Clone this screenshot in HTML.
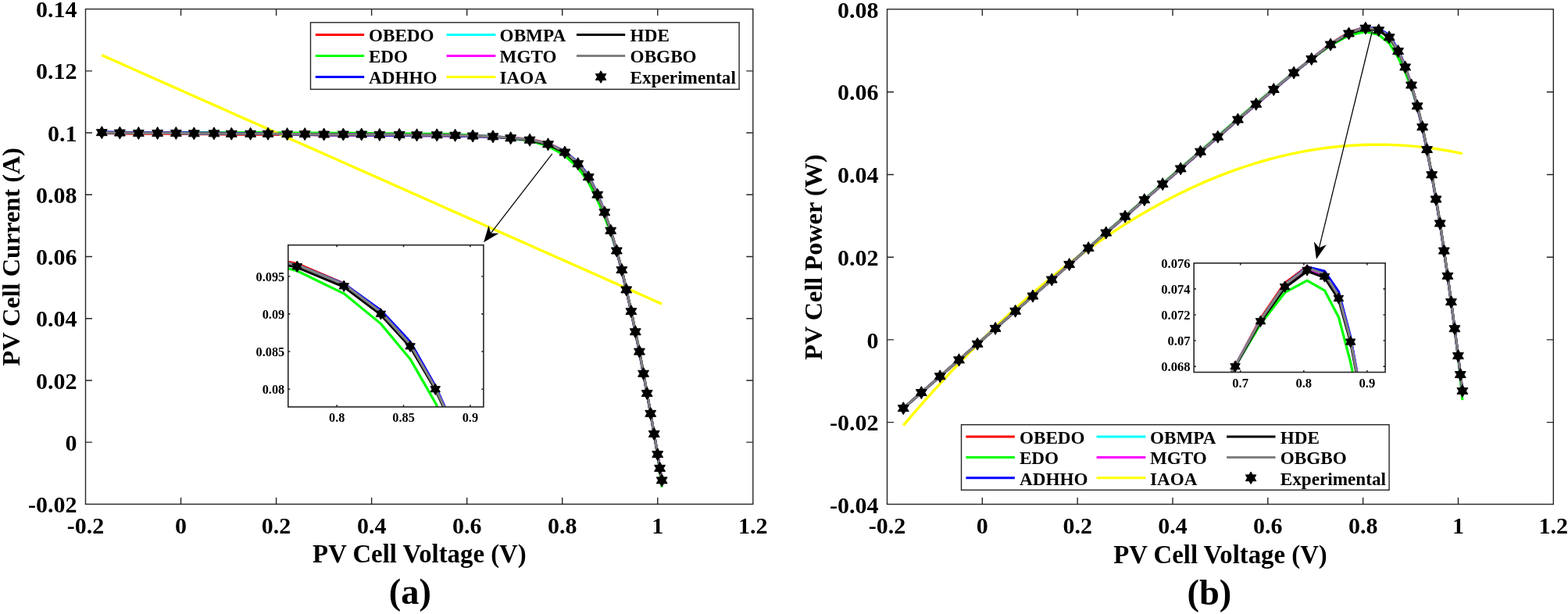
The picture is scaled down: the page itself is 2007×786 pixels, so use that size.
<!DOCTYPE html>
<html><head><meta charset="utf-8"><title>PV cell I-V and P-V curves</title>
<style>
html,body{margin:0;padding:0;background:#fff;}
body{width:2007px;height:786px;overflow:hidden;}
svg{display:block;}
text{font-family:"Liberation Serif", "Times New Roman", serif;font-weight:bold;fill:#000;}
</style></head>
<body>
<svg width="2007" height="786" viewBox="0 0 2007 786">
<rect width="2007" height="786" fill="#fff"/>
<clipPath id="clipA"><rect x="109.5" y="11.6" width="854.3" height="633.8"/></clipPath>
<polyline points="130.31,170.45 153.37,170.84 177.36,171.24 201.64,171.24 225.32,171.24 248.32,171.63 273.95,171.63 296.29,172.03 320.63,172.03 343.09,172.03 367.62,172.43 390.2,172.43 414.67,172.82 439.38,172.82 462.75,172.82 485.88,173.22 511.2,173.22 533.54,173.62 559.23,173.62 582.6,174.01 605.18,174.66 630.99,174.95 653.69,176.49 678.1,178.01 701.53,183.2 722.95,193.64 739.79,208.41 753.28,225.59 764.75,248.46 773.84,271.28 781.71,294.83 789.34,320.61 795.87,345.19 801.73,370.56 807.89,398.31 813.26,424.47 818.45,449.84 823.57,477.98 828.21,503.35 832.73,529.11 837.24,555.27 841.7,581.43 844.56,599.26 847.19,614.72" stroke="#ff0000" stroke-width="3.2" fill="none" stroke-linejoin="round" stroke-linecap="butt" clip-path="url(#clipA)"/>
<polyline points="130.31,169.5 153.37,169.72 177.36,169.94 201.64,169.76 225.32,169.59 248.32,169.81 273.95,169.62 296.29,169.85 320.63,169.67 343.09,169.65 367.62,170.05 390.2,170.05 414.67,170.45 439.38,170.45 462.75,170.45 485.88,170.84 511.2,170.84 533.54,171.24 559.23,171.24 582.6,171.92 605.18,173.13 630.99,174.4 653.69,176.83 678.1,180.29 701.53,187.01 722.95,198.97 739.79,214.81 753.28,233.43 764.75,256.4 773.84,277.43 781.71,298.06 789.34,321.16 795.87,344.76 801.73,369.7 807.89,397.43 813.26,423.57 818.45,448.92 823.57,477.06 828.21,503.02 832.73,529.36 837.24,556.09 841.7,582.81 844.56,604.57 847.19,623.61" stroke="#00ff00" stroke-width="3.2" fill="none" stroke-linejoin="round" stroke-linecap="butt" clip-path="url(#clipA)"/>
<polyline points="130.31,168.86 153.37,169.26 177.36,169.65 201.64,169.65 225.32,169.65 248.32,170.05 273.95,170.05 296.29,170.49 320.63,170.81 343.09,171.1 367.62,171.82 390.2,172.11 414.67,172.82 439.38,172.82 462.75,172.82 485.88,173.22 511.2,173.22 533.54,173.62 559.23,173.62 582.6,174.01 605.18,174.71 630.99,175.16 653.69,176.85 678.1,178.8 701.53,183.91 722.95,193.82 739.79,207.68 753.28,224.32 764.75,247.54 773.84,270.62 781.71,295.42 789.34,322.13 795.87,346.59 801.73,371.86 807.89,399.5 813.26,425.57 818.45,450.84 823.57,478.89 828.21,504.18 832.73,529.86 837.24,555.94 841.7,582.02 844.56,599.83 847.19,615.26" stroke="#0000ff" stroke-width="3.2" fill="none" stroke-linejoin="round" stroke-linecap="butt" clip-path="url(#clipA)"/>
<polyline points="130.31,169.65 153.37,170.05 177.36,170.45 201.64,170.45 225.32,170.45 248.32,170.84 273.95,170.84 296.29,171.24 320.63,171.24 343.09,171.24 367.62,171.63 390.2,171.63 414.67,172.03 439.38,172.03 462.75,172.03 485.88,172.43 511.2,172.43 533.54,172.82 559.23,172.82 582.6,173.22 605.18,173.96 630.99,174.59 653.69,176.42 678.1,178.58 701.53,183.91 722.95,194.21 739.79,208.87 753.28,225.94 764.75,248.67 773.84,271.37 781.71,294.83 789.34,320.61 795.87,345.19 801.73,370.56 807.89,398.31 813.26,424.47 818.45,449.84 823.57,477.98 828.21,503.35 832.73,529.11 837.24,555.27 841.7,581.43 844.56,599.26 847.19,614.72" stroke="#00ffff" stroke-width="3.2" fill="none" stroke-linejoin="round" stroke-linecap="butt" clip-path="url(#clipA)"/>
<polyline points="130.31,169.65 153.37,170.05 177.36,170.45 201.64,170.45 225.32,170.45 248.32,170.84 273.95,170.84 296.29,171.24 320.63,171.24 343.09,171.24 367.62,171.63 390.2,171.63 414.67,172.03 439.38,172.03 462.75,172.03 485.88,172.43 511.2,172.43 533.54,172.82 559.23,172.82 582.6,173.22 605.18,173.96 630.99,174.59 653.69,176.42 678.1,178.67 701.53,184.11 722.95,194.61 739.79,209.02 753.28,225.94 764.75,248.67 773.84,271.37 781.71,294.83 789.34,320.61 795.87,345.19 801.73,370.56 807.89,398.31 813.26,424.47 818.45,449.84 823.57,477.98 828.21,503.35 832.73,529.11 837.24,555.27 841.7,581.43 844.56,599.26 847.19,614.72" stroke="#ff00ff" stroke-width="3.2" fill="none" stroke-linejoin="round" stroke-linecap="butt" clip-path="url(#clipA)"/>
<polyline points="130.31,70.62 142.46,76.02 154.61,81.42 166.76,86.82 178.91,92.21 191.06,97.61 203.21,103.01 215.36,108.41 227.51,113.81 239.66,119.21 251.81,124.6 263.96,130 276.11,135.4 288.26,140.8 300.42,146.2 312.57,151.59 324.72,156.99 336.87,162.39 349.02,167.79 361.17,173.19 373.32,178.58 385.47,183.98 397.62,189.38 409.77,194.78 421.92,200.18 434.07,205.57 446.22,210.97 458.37,216.37 470.52,221.77 482.67,227.17 494.82,232.56 506.97,237.96 519.12,243.36 531.27,248.76 543.43,254.16 555.58,259.55 567.73,264.95 579.88,270.35 592.03,275.75 604.18,281.15 616.33,286.54 628.48,291.94 640.63,297.34 652.78,302.74 664.93,308.14 677.08,313.53 689.23,318.93 701.38,324.33 713.53,329.73 725.68,335.13 737.83,340.52 749.98,345.92 762.13,351.32 774.29,356.72 786.44,362.12 798.59,367.51 810.74,372.91 822.89,378.31 835.04,383.71 847.19,389.11" stroke="#ffff00" stroke-width="3.4" fill="none" stroke-linejoin="round" stroke-linecap="butt" clip-path="url(#clipA)"/>
<polyline points="130.31,169.65 153.37,170.05 177.36,170.45 201.64,170.45 225.32,170.45 248.32,170.84 273.95,170.84 296.29,171.24 320.63,171.24 343.09,171.24 367.62,171.63 390.2,171.63 414.67,172.03 439.38,172.03 462.75,172.03 485.88,172.43 511.2,172.43 533.54,172.82 559.23,172.82 582.6,173.22 605.18,174.01 630.99,174.8 653.69,176.78 678.1,179.34 701.53,185.1 722.95,195.4 739.79,210.06 753.28,227.05 764.75,249.48 773.84,271.94 781.71,295.23 789.34,320.97 795.87,345.53 801.73,370.89 807.89,398.61 813.26,424.76 818.45,450.11 823.57,478.24 828.21,503.59 832.73,529.34 837.24,555.48 841.7,581.62 844.56,599.45 847.19,614.9" stroke="#000000" stroke-width="3.2" fill="none" stroke-linejoin="round" stroke-linecap="butt" clip-path="url(#clipA)"/>
<polyline points="130.31,169.65 153.37,170.05 177.36,170.45 201.64,170.45 225.32,170.45 248.32,170.84 273.95,170.84 296.29,171.24 320.63,171.24 343.09,171.24 367.62,171.63 390.2,171.63 414.67,172.03 439.38,172.03 462.75,172.03 485.88,172.43 511.2,172.43 533.54,172.82 559.23,172.82 582.6,173.22 605.18,173.96 630.99,174.59 653.69,176.42 678.1,178.58 701.53,183.91 722.95,194.13 739.79,208.71 753.28,225.76 764.75,248.57 773.84,271.32 781.71,294.83 789.34,320.61 795.87,345.19 801.73,370.56 807.89,398.31 813.26,424.47 818.45,449.84 823.57,477.98 828.21,503.35 832.73,529.11 837.24,555.27 841.7,581.43 844.56,599.26 847.19,614.72" stroke="#808080" stroke-width="3.2" fill="none" stroke-linejoin="round" stroke-linecap="butt" clip-path="url(#clipA)"/>
<polygon points="130.31,161.65 128,165.65 123.38,165.65 125.69,169.65 123.38,173.65 128,173.65 130.31,177.65 132.62,173.65 137.24,173.65 134.93,169.65 137.24,165.65 132.62,165.65" fill="#000" stroke="#000" stroke-width="1.0" stroke-miterlimit="10"/>
<polygon points="153.37,162.05 151.07,166.05 146.45,166.05 148.76,170.05 146.45,174.05 151.07,174.05 153.37,178.05 155.68,174.05 160.3,174.05 157.99,170.05 160.3,166.05 155.68,166.05" fill="#000" stroke="#000" stroke-width="1.0" stroke-miterlimit="10"/>
<polygon points="177.36,162.45 175.05,166.45 170.43,166.45 172.74,170.45 170.43,174.45 175.05,174.45 177.36,178.45 179.67,174.45 184.28,174.45 181.97,170.45 184.28,166.45 179.67,166.45" fill="#000" stroke="#000" stroke-width="1.0" stroke-miterlimit="10"/>
<polygon points="201.64,162.45 199.33,166.45 194.71,166.45 197.02,170.45 194.71,174.45 199.33,174.45 201.64,178.45 203.95,174.45 208.57,174.45 206.26,170.45 208.57,166.45 203.95,166.45" fill="#000" stroke="#000" stroke-width="1.0" stroke-miterlimit="10"/>
<polygon points="225.32,162.45 223.01,166.45 218.39,166.45 220.7,170.45 218.39,174.45 223.01,174.45 225.32,178.45 227.63,174.45 232.25,174.45 229.94,170.45 232.25,166.45 227.63,166.45" fill="#000" stroke="#000" stroke-width="1.0" stroke-miterlimit="10"/>
<polygon points="248.32,162.84 246.01,166.84 241.4,166.84 243.7,170.84 241.4,174.84 246.01,174.84 248.32,178.84 250.63,174.84 255.25,174.84 252.94,170.84 255.25,166.84 250.63,166.84" fill="#000" stroke="#000" stroke-width="1.0" stroke-miterlimit="10"/>
<polygon points="273.95,162.84 271.64,166.84 267.02,166.84 269.33,170.84 267.02,174.84 271.64,174.84 273.95,178.84 276.26,174.84 280.88,174.84 278.57,170.84 280.88,166.84 276.26,166.84" fill="#000" stroke="#000" stroke-width="1.0" stroke-miterlimit="10"/>
<polygon points="296.29,163.24 293.98,167.24 289.36,167.24 291.67,171.24 289.36,175.24 293.98,175.24 296.29,179.24 298.6,175.24 303.21,175.24 300.91,171.24 303.21,167.24 298.6,167.24" fill="#000" stroke="#000" stroke-width="1.0" stroke-miterlimit="10"/>
<polygon points="320.63,163.24 318.32,167.24 313.71,167.24 316.02,171.24 313.71,175.24 318.32,175.24 320.63,179.24 322.94,175.24 327.56,175.24 325.25,171.24 327.56,167.24 322.94,167.24" fill="#000" stroke="#000" stroke-width="1.0" stroke-miterlimit="10"/>
<polygon points="343.09,163.24 340.78,167.24 336.16,167.24 338.47,171.24 336.16,175.24 340.78,175.24 343.09,179.24 345.4,175.24 350.02,175.24 347.71,171.24 350.02,167.24 345.4,167.24" fill="#000" stroke="#000" stroke-width="1.0" stroke-miterlimit="10"/>
<polygon points="367.62,163.63 365.31,167.63 360.69,167.63 363,171.63 360.69,175.63 365.31,175.63 367.62,179.63 369.93,175.63 374.55,175.63 372.24,171.63 374.55,167.63 369.93,167.63" fill="#000" stroke="#000" stroke-width="1.0" stroke-miterlimit="10"/>
<polygon points="390.2,163.63 387.89,167.63 383.27,167.63 385.58,171.63 383.27,175.63 387.89,175.63 390.2,179.63 392.51,175.63 397.13,175.63 394.82,171.63 397.13,167.63 392.51,167.63" fill="#000" stroke="#000" stroke-width="1.0" stroke-miterlimit="10"/>
<polygon points="414.67,164.03 412.36,168.03 407.74,168.03 410.05,172.03 407.74,176.03 412.36,176.03 414.67,180.03 416.98,176.03 421.6,176.03 419.29,172.03 421.6,168.03 416.98,168.03" fill="#000" stroke="#000" stroke-width="1.0" stroke-miterlimit="10"/>
<polygon points="439.38,164.03 437.07,168.03 432.45,168.03 434.76,172.03 432.45,176.03 437.07,176.03 439.38,180.03 441.69,176.03 446.31,176.03 444,172.03 446.31,168.03 441.69,168.03" fill="#000" stroke="#000" stroke-width="1.0" stroke-miterlimit="10"/>
<polygon points="462.75,164.03 460.44,168.03 455.82,168.03 458.13,172.03 455.82,176.03 460.44,176.03 462.75,180.03 465.06,176.03 469.68,176.03 467.37,172.03 469.68,168.03 465.06,168.03" fill="#000" stroke="#000" stroke-width="1.0" stroke-miterlimit="10"/>
<polygon points="485.88,164.43 483.57,168.43 478.95,168.43 481.26,172.43 478.95,176.43 483.57,176.43 485.88,180.43 488.19,176.43 492.81,176.43 490.5,172.43 492.81,168.43 488.19,168.43" fill="#000" stroke="#000" stroke-width="1.0" stroke-miterlimit="10"/>
<polygon points="511.2,164.43 508.89,168.43 504.28,168.43 506.59,172.43 504.28,176.43 508.89,176.43 511.2,180.43 513.51,176.43 518.13,176.43 515.82,172.43 518.13,168.43 513.51,168.43" fill="#000" stroke="#000" stroke-width="1.0" stroke-miterlimit="10"/>
<polygon points="533.54,164.82 531.23,168.82 526.61,168.82 528.92,172.82 526.61,176.82 531.23,176.82 533.54,180.82 535.85,176.82 540.47,176.82 538.16,172.82 540.47,168.82 535.85,168.82" fill="#000" stroke="#000" stroke-width="1.0" stroke-miterlimit="10"/>
<polygon points="559.23,164.82 556.92,168.82 552.3,168.82 554.61,172.82 552.3,176.82 556.92,176.82 559.23,180.82 561.54,176.82 566.16,176.82 563.85,172.82 566.16,168.82 561.54,168.82" fill="#000" stroke="#000" stroke-width="1.0" stroke-miterlimit="10"/>
<polygon points="582.6,165.22 580.29,169.22 575.67,169.22 577.98,173.22 575.67,177.22 580.29,177.22 582.6,181.22 584.91,177.22 589.53,177.22 587.22,173.22 589.53,169.22 584.91,169.22" fill="#000" stroke="#000" stroke-width="1.0" stroke-miterlimit="10"/>
<polygon points="605.18,166.01 602.87,170.01 598.25,170.01 600.56,174.01 598.25,178.01 602.87,178.01 605.18,182.01 607.49,178.01 612.11,178.01 609.8,174.01 612.11,170.01 607.49,170.01" fill="#000" stroke="#000" stroke-width="1.0" stroke-miterlimit="10"/>
<polygon points="630.99,166.8 628.68,170.8 624.06,170.8 626.37,174.8 624.06,178.8 628.68,178.8 630.99,182.8 633.3,178.8 637.92,178.8 635.61,174.8 637.92,170.8 633.3,170.8" fill="#000" stroke="#000" stroke-width="1.0" stroke-miterlimit="10"/>
<polygon points="653.69,168.78 651.38,172.78 646.76,172.78 649.07,176.78 646.76,180.78 651.38,180.78 653.69,184.78 656,180.78 660.62,180.78 658.31,176.78 660.62,172.78 656,172.78" fill="#000" stroke="#000" stroke-width="1.0" stroke-miterlimit="10"/>
<polygon points="678.1,171.16 675.79,175.16 671.17,175.16 673.48,179.16 671.17,183.16 675.79,183.16 678.1,187.16 680.41,183.16 685.03,183.16 682.72,179.16 685.03,175.16 680.41,175.16" fill="#000" stroke="#000" stroke-width="1.0" stroke-miterlimit="10"/>
<polygon points="701.53,176.71 699.22,180.71 694.6,180.71 696.91,184.71 694.6,188.71 699.22,188.71 701.53,192.71 703.84,188.71 708.46,188.71 706.15,184.71 708.46,180.71 703.84,180.71" fill="#000" stroke="#000" stroke-width="1.0" stroke-miterlimit="10"/>
<polygon points="722.95,187.01 720.64,191.01 716.02,191.01 718.33,195.01 716.02,199.01 720.64,199.01 722.95,203.01 725.26,199.01 729.88,199.01 727.57,195.01 729.88,191.01 725.26,191.01" fill="#000" stroke="#000" stroke-width="1.0" stroke-miterlimit="10"/>
<polygon points="739.79,201.66 737.48,205.66 732.86,205.66 735.17,209.66 732.86,213.66 737.48,213.66 739.79,217.66 742.1,213.66 746.72,213.66 744.41,209.66 746.72,205.66 742.1,205.66" fill="#000" stroke="#000" stroke-width="1.0" stroke-miterlimit="10"/>
<polygon points="753.28,218.7 750.97,222.7 746.35,222.7 748.66,226.7 746.35,230.7 750.97,230.7 753.28,234.7 755.59,230.7 760.2,230.7 757.89,226.7 760.2,222.7 755.59,222.7" fill="#000" stroke="#000" stroke-width="1.0" stroke-miterlimit="10"/>
<polygon points="764.75,241.27 762.44,245.27 757.82,245.27 760.13,249.27 757.82,253.27 762.44,253.27 764.75,257.27 767.06,253.27 771.68,253.27 769.37,249.27 771.68,245.27 767.06,245.27" fill="#000" stroke="#000" stroke-width="1.0" stroke-miterlimit="10"/>
<polygon points="773.84,263.85 771.53,267.85 766.91,267.85 769.22,271.85 766.91,275.85 771.53,275.85 773.84,279.85 776.15,275.85 780.77,275.85 778.46,271.85 780.77,267.85 776.15,267.85" fill="#000" stroke="#000" stroke-width="1.0" stroke-miterlimit="10"/>
<polygon points="781.71,287.23 779.4,291.23 774.78,291.23 777.09,295.23 774.78,299.23 779.4,299.23 781.71,303.23 784.02,299.23 788.64,299.23 786.33,295.23 788.64,291.23 784.02,291.23" fill="#000" stroke="#000" stroke-width="1.0" stroke-miterlimit="10"/>
<polygon points="789.34,312.97 787.03,316.97 782.41,316.97 784.72,320.97 782.41,324.97 787.03,324.97 789.34,328.97 791.65,324.97 796.27,324.97 793.96,320.97 796.27,316.97 791.65,316.97" fill="#000" stroke="#000" stroke-width="1.0" stroke-miterlimit="10"/>
<polygon points="795.87,337.53 793.56,341.53 788.94,341.53 791.25,345.53 788.94,349.53 793.56,349.53 795.87,353.53 798.18,349.53 802.8,349.53 800.49,345.53 802.8,341.53 798.18,341.53" fill="#000" stroke="#000" stroke-width="1.0" stroke-miterlimit="10"/>
<polygon points="801.73,362.89 799.42,366.89 794.8,366.89 797.11,370.89 794.8,374.89 799.42,374.89 801.73,378.89 804.04,374.89 808.66,374.89 806.35,370.89 808.66,366.89 804.04,366.89" fill="#000" stroke="#000" stroke-width="1.0" stroke-miterlimit="10"/>
<polygon points="807.89,390.61 805.58,394.61 800.96,394.61 803.27,398.61 800.96,402.61 805.58,402.61 807.89,406.61 810.2,402.61 814.82,402.61 812.51,398.61 814.82,394.61 810.2,394.61" fill="#000" stroke="#000" stroke-width="1.0" stroke-miterlimit="10"/>
<polygon points="813.26,416.76 810.95,420.76 806.33,420.76 808.64,424.76 806.33,428.76 810.95,428.76 813.26,432.76 815.57,428.76 820.19,428.76 817.88,424.76 820.19,420.76 815.57,420.76" fill="#000" stroke="#000" stroke-width="1.0" stroke-miterlimit="10"/>
<polygon points="818.45,442.11 816.14,446.11 811.52,446.11 813.83,450.11 811.52,454.11 816.14,454.11 818.45,458.11 820.76,454.11 825.38,454.11 823.07,450.11 825.38,446.11 820.76,446.11" fill="#000" stroke="#000" stroke-width="1.0" stroke-miterlimit="10"/>
<polygon points="823.57,470.24 821.26,474.24 816.64,474.24 818.95,478.24 816.64,482.24 821.26,482.24 823.57,486.24 825.88,482.24 830.5,482.24 828.19,478.24 830.5,474.24 825.88,474.24" fill="#000" stroke="#000" stroke-width="1.0" stroke-miterlimit="10"/>
<polygon points="828.21,495.59 825.9,499.59 821.28,499.59 823.59,503.59 821.28,507.59 825.9,507.59 828.21,511.59 830.52,507.59 835.14,507.59 832.83,503.59 835.14,499.59 830.52,499.59" fill="#000" stroke="#000" stroke-width="1.0" stroke-miterlimit="10"/>
<polygon points="832.73,521.34 830.42,525.34 825.8,525.34 828.11,529.34 825.8,533.34 830.42,533.34 832.73,537.34 835.04,533.34 839.65,533.34 837.34,529.34 839.65,525.34 835.04,525.34" fill="#000" stroke="#000" stroke-width="1.0" stroke-miterlimit="10"/>
<polygon points="837.24,547.48 834.93,551.48 830.31,551.48 832.62,555.48 830.31,559.48 834.93,559.48 837.24,563.48 839.55,559.48 844.17,559.48 841.86,555.48 844.17,551.48 839.55,551.48" fill="#000" stroke="#000" stroke-width="1.0" stroke-miterlimit="10"/>
<polygon points="841.7,573.62 839.39,577.62 834.77,577.62 837.08,581.62 834.77,585.62 839.39,585.62 841.7,589.62 844.01,585.62 848.62,585.62 846.31,581.62 848.62,577.62 844.01,577.62" fill="#000" stroke="#000" stroke-width="1.0" stroke-miterlimit="10"/>
<polygon points="844.56,591.45 842.25,595.45 837.64,595.45 839.95,599.45 837.64,603.45 842.25,603.45 844.56,607.45 846.87,603.45 851.49,603.45 849.18,599.45 851.49,595.45 846.87,595.45" fill="#000" stroke="#000" stroke-width="1.0" stroke-miterlimit="10"/>
<polygon points="847.19,606.9 844.88,610.9 840.26,610.9 842.57,614.9 840.26,618.9 844.88,618.9 847.19,622.9 849.5,618.9 854.12,618.9 851.81,614.9 854.12,610.9 849.5,610.9" fill="#000" stroke="#000" stroke-width="1.0" stroke-miterlimit="10"/>
<path d="M231.54 645.4V636.9M231.54 11.6V20.1M353.59 645.4V636.9M353.59 11.6V20.1M475.63 645.4V636.9M475.63 11.6V20.1M597.67 645.4V636.9M597.67 11.6V20.1M719.71 645.4V636.9M719.71 11.6V20.1M841.76 645.4V636.9M841.76 11.6V20.1M109.5 566.17H118M963.8 566.17H955.3M109.5 486.95H118M963.8 486.95H955.3M109.5 407.73H118M963.8 407.73H955.3M109.5 328.5H118M963.8 328.5H955.3M109.5 249.27H118M963.8 249.27H955.3M109.5 170.05H118M963.8 170.05H955.3M109.5 90.83H118M963.8 90.83H955.3" stroke="#262626" stroke-width="1.4" fill="none"/>
<rect x="109.5" y="11.6" width="854.3" height="633.8" stroke="#262626" stroke-width="1.4" fill="none"/>
<text x="109.5" y="683.3" font-size="30" text-anchor="middle">-0.2</text>
<text x="231.54" y="683.3" font-size="30" text-anchor="middle">0</text>
<text x="353.59" y="683.3" font-size="30" text-anchor="middle">0.2</text>
<text x="475.63" y="683.3" font-size="30" text-anchor="middle">0.4</text>
<text x="597.67" y="683.3" font-size="30" text-anchor="middle">0.6</text>
<text x="719.71" y="683.3" font-size="30" text-anchor="middle">0.8</text>
<text x="841.76" y="683.3" font-size="30" text-anchor="middle">1</text>
<text x="963.8" y="683.3" font-size="30" text-anchor="middle">1.2</text>
<text x="98.5" y="656" font-size="30" text-anchor="end">-0.02</text>
<text x="98.5" y="576.77" font-size="30" text-anchor="end">0</text>
<text x="98.5" y="497.55" font-size="30" text-anchor="end">0.02</text>
<text x="98.5" y="418.33" font-size="30" text-anchor="end">0.04</text>
<text x="98.5" y="339.1" font-size="30" text-anchor="end">0.06</text>
<text x="98.5" y="259.88" font-size="30" text-anchor="end">0.08</text>
<text x="98.5" y="180.65" font-size="30" text-anchor="end">0.1</text>
<text x="98.5" y="101.43" font-size="30" text-anchor="end">0.12</text>
<text x="98.5" y="22.2" font-size="30" text-anchor="end">0.14</text>
<text x="24.9" y="328.8" font-size="32.3" text-anchor="middle" transform="rotate(-90 24.9 328.8)" dy="0">PV Cell Current (A)</text>
<text x="536.9" y="720.1" font-size="32.8" text-anchor="middle">PV Cell Voltage (V)</text>
<text x="524.9" y="773.4" font-size="46.5" text-anchor="middle">(a)</text>
<rect x="397.5" y="28.8" width="548.6" height="85.5" fill="#fff" stroke="#262626" stroke-width="1.4"/>
<line x1="403.75" y1="44.4" x2="466.2" y2="44.4" stroke="#ff0000" stroke-width="3"/>
<text x="471.9" y="53.2" font-size="23.2" text-anchor="start">OBEDO</text>
<line x1="403.75" y1="71.6" x2="466.2" y2="71.6" stroke="#00ff00" stroke-width="3"/>
<text x="471.9" y="80.4" font-size="23.2" text-anchor="start">EDO</text>
<line x1="403.75" y1="98.5" x2="466.2" y2="98.5" stroke="#0000ff" stroke-width="3"/>
<text x="471.9" y="107.3" font-size="23.2" text-anchor="start">ADHHO</text>
<line x1="571.6" y1="44.4" x2="634.4" y2="44.4" stroke="#00ffff" stroke-width="3"/>
<text x="639.6" y="53.2" font-size="23.2" text-anchor="start">OBMPA</text>
<line x1="571.6" y1="71.6" x2="634.4" y2="71.6" stroke="#ff00ff" stroke-width="3"/>
<text x="639.6" y="80.4" font-size="23.2" text-anchor="start">MGTO</text>
<line x1="571.6" y1="98.5" x2="634.4" y2="98.5" stroke="#ffff00" stroke-width="3"/>
<text x="639.6" y="107.3" font-size="23.2" text-anchor="start">IAOA</text>
<line x1="738" y1="44.4" x2="800.2" y2="44.4" stroke="#000000" stroke-width="3"/>
<text x="806.6" y="53.2" font-size="23.2" text-anchor="start">HDE</text>
<line x1="738" y1="71.6" x2="800.2" y2="71.6" stroke="#808080" stroke-width="3"/>
<text x="806.6" y="80.4" font-size="23.2" text-anchor="start">OBGBO</text>
<polygon points="769.1,90.7 766.85,94.6 762.35,94.6 764.6,98.5 762.35,102.4 766.85,102.4 769.1,106.3 771.35,102.4 775.85,102.4 773.6,98.5 775.85,94.6 771.35,94.6" fill="#000" stroke="#000" stroke-width="1.0" stroke-miterlimit="10"/>
<text x="806.6" y="107.3" font-size="23.2" text-anchor="start">Experimental</text>
<rect x="368.8" y="313.7" width="250.1" height="207.2" fill="#fff"/>
<clipPath id="clipA2"><rect x="368.8" y="313.7" width="250.1" height="207.2"/></clipPath>
<polyline points="-1217.59,306.5 -1153.07,307.47 -1085.98,308.43 -1018.04,308.43 -951.81,308.43 -887.46,309.39 -815.76,309.39 -753.29,310.36 -685.18,310.36 -622.36,310.36 -553.74,311.32 -490.58,311.32 -422.13,312.28 -353,312.28 -287.62,312.28 -222.92,313.25 -152.08,313.25 -89.61,314.21 -17.74,314.21 47.64,315.17 110.8,316.74 183,317.45 246.5,321.19 314.78,324.89 380.33,337.52 440.25,362.91 487.36,398.82 525.08,440.59 557.18,496.23 582.61,551.71 604.63,608.99 625.97,671.66 644.23,731.44 660.62,793.14 677.86,860.62 692.88,924.24 707.39,985.93 721.73,1054.36 734.7,1116.05 747.34,1178.7 759.97,1242.31 772.43,1305.93 780.45,1349.3 787.79,1386.89" stroke="#ff0000" stroke-width="3.2" fill="none" stroke-linejoin="round" stroke-linecap="butt" clip-path="url(#clipA2)"/>
<polyline points="-1217.59,304.2 -1153.07,304.75 -1085.98,305.28 -1018.04,304.84 -951.81,304.41 -887.46,304.96 -815.76,304.5 -753.29,305.06 -685.18,304.62 -622.36,304.58 -553.74,305.54 -490.58,305.54 -422.13,306.5 -353,306.5 -287.62,306.5 -222.92,307.47 -152.08,307.47 -89.61,308.43 -17.74,308.43 47.64,310.09 110.8,313.03 183,316.13 246.5,322.03 314.78,330.44 380.33,346.78 440.25,375.86 487.36,414.38 525.08,459.67 557.18,515.53 582.61,566.67 604.63,616.83 625.97,673.02 644.23,730.39 660.62,791.04 677.86,858.47 692.88,922.05 707.39,983.7 721.73,1052.14 734.7,1115.26 747.34,1179.3 759.97,1244.31 772.43,1309.3 780.45,1362.21 787.79,1408.52" stroke="#00ff00" stroke-width="3.2" fill="none" stroke-linejoin="round" stroke-linecap="butt" clip-path="url(#clipA2)"/>
<polyline points="-1217.59,302.65 -1153.07,303.61 -1085.98,304.58 -1018.04,304.58 -951.81,304.58 -887.46,305.54 -815.76,305.54 -753.29,306.62 -685.18,307.39 -622.36,308.1 -553.74,309.84 -490.58,310.55 -422.13,312.28 -353,312.28 -287.62,312.28 -222.92,313.25 -152.08,313.25 -89.61,314.21 -17.74,314.21 47.64,315.17 110.8,316.86 183,317.97 246.5,322.07 314.78,326.82 380.33,339.25 440.25,363.34 487.36,397.06 525.08,437.51 557.18,493.97 582.61,550.11 604.63,610.41 625.97,675.36 644.23,734.85 660.62,796.3 677.86,863.52 692.88,926.9 707.39,988.37 721.73,1056.59 734.7,1118.08 747.34,1180.53 759.97,1243.95 772.43,1307.37 780.45,1350.68 787.79,1388.2" stroke="#0000ff" stroke-width="3.2" fill="none" stroke-linejoin="round" stroke-linecap="butt" clip-path="url(#clipA2)"/>
<polyline points="-1217.59,304.58 -1153.07,305.54 -1085.98,306.5 -1018.04,306.5 -951.81,306.5 -887.46,307.47 -815.76,307.47 -753.29,308.43 -685.18,308.43 -622.36,308.43 -553.74,309.39 -490.58,309.39 -422.13,310.36 -353,310.36 -287.62,310.36 -222.92,311.32 -152.08,311.32 -89.61,312.28 -17.74,312.28 47.64,313.25 110.8,315.05 183,316.57 246.5,321.03 314.78,326.29 380.33,339.26 440.25,364.3 487.36,399.94 525.08,441.46 557.18,496.73 582.61,551.93 604.63,608.99 625.97,671.66 644.23,731.44 660.62,793.14 677.86,860.62 692.88,924.24 707.39,985.93 721.73,1054.36 734.7,1116.05 747.34,1178.7 759.97,1242.31 772.43,1305.93 780.45,1349.3 787.79,1386.89" stroke="#00ffff" stroke-width="3.2" fill="none" stroke-linejoin="round" stroke-linecap="butt" clip-path="url(#clipA2)"/>
<polyline points="-1217.59,304.58 -1153.07,305.54 -1085.98,306.5 -1018.04,306.5 -951.81,306.5 -887.46,307.47 -815.76,307.47 -753.29,308.43 -685.18,308.43 -622.36,308.43 -553.74,309.39 -490.58,309.39 -422.13,310.36 -353,310.36 -287.62,310.36 -222.92,311.32 -152.08,311.32 -89.61,312.28 -17.74,312.28 47.64,313.25 110.8,315.05 183,316.57 246.5,321.03 314.78,326.51 380.33,339.74 440.25,365.26 487.36,400.31 525.08,441.46 557.18,496.73 582.61,551.93 604.63,608.99 625.97,671.66 644.23,731.44 660.62,793.14 677.86,860.62 692.88,924.24 707.39,985.93 721.73,1054.36 734.7,1116.05 747.34,1178.7 759.97,1242.31 772.43,1305.93 780.45,1349.3 787.79,1386.89" stroke="#ff00ff" stroke-width="3.2" fill="none" stroke-linejoin="round" stroke-linecap="butt" clip-path="url(#clipA2)"/>
<polyline points="-1217.59,304.58 -1153.07,305.54 -1085.98,306.5 -1018.04,306.5 -951.81,306.5 -887.46,307.47 -815.76,307.47 -753.29,308.43 -685.18,308.43 -622.36,308.43 -553.74,309.39 -490.58,309.39 -422.13,310.36 -353,310.36 -287.62,310.36 -222.92,311.32 -152.08,311.32 -89.61,312.28 -17.74,312.28 47.64,313.25 110.8,315.17 183,317.1 246.5,321.92 314.78,328.13 380.33,342.15 440.25,367.19 487.36,402.83 525.08,444.16 557.18,498.7 582.61,553.33 604.63,609.94 625.97,672.56 644.23,732.28 660.62,793.93 677.86,861.36 692.88,924.94 707.39,986.59 721.73,1054.99 734.7,1116.64 747.34,1179.25 759.97,1242.83 772.43,1306.41 780.45,1349.76 787.79,1387.33" stroke="#000000" stroke-width="3.2" fill="none" stroke-linejoin="round" stroke-linecap="butt" clip-path="url(#clipA2)"/>
<polyline points="-1217.59,304.58 -1153.07,305.54 -1085.98,306.5 -1018.04,306.5 -951.81,306.5 -887.46,307.47 -815.76,307.47 -753.29,308.43 -685.18,308.43 -622.36,308.43 -553.74,309.39 -490.58,309.39 -422.13,310.36 -353,310.36 -287.62,310.36 -222.92,311.32 -152.08,311.32 -89.61,312.28 -17.74,312.28 47.64,313.25 110.8,315.05 183,316.57 246.5,321.03 314.78,326.29 380.33,339.25 440.25,364.09 487.36,399.56 525.08,441.03 557.18,496.48 582.61,551.82 604.63,608.99 625.97,671.66 644.23,731.44 660.62,793.14 677.86,860.62 692.88,924.24 707.39,985.93 721.73,1054.36 734.7,1116.05 747.34,1178.7 759.97,1242.31 772.43,1305.93 780.45,1349.3 787.79,1386.89" stroke="#808080" stroke-width="3.2" fill="none" stroke-linejoin="round" stroke-linecap="butt" clip-path="url(#clipA2)"/>
<g clip-path="url(#clipA2)">
<polygon points="380.33,333.98 378.25,337.58 374.1,337.58 376.17,341.18 374.1,344.78 378.25,344.78 380.33,348.38 382.41,344.78 386.57,344.78 384.49,341.18 386.57,337.58 382.41,337.58" fill="#000" stroke="#000" stroke-width="1.0" stroke-miterlimit="10"/>
<polygon points="440.25,359.03 438.17,362.63 434.01,362.63 436.09,366.23 434.01,369.83 438.17,369.83 440.25,373.43 442.33,369.83 446.48,369.83 444.4,366.23 446.48,362.63 442.33,362.63" fill="#000" stroke="#000" stroke-width="1.0" stroke-miterlimit="10"/>
<polygon points="487.36,394.67 485.28,398.27 481.12,398.27 483.2,401.87 481.12,405.47 485.28,405.47 487.36,409.07 489.44,405.47 493.6,405.47 491.52,401.87 493.6,398.27 489.44,398.27" fill="#000" stroke="#000" stroke-width="1.0" stroke-miterlimit="10"/>
<polygon points="525.08,436.09 523.01,439.69 518.85,439.69 520.93,443.29 518.85,446.89 523.01,446.89 525.08,450.49 527.16,446.89 531.32,446.89 529.24,443.29 531.32,439.69 527.16,439.69" fill="#000" stroke="#000" stroke-width="1.0" stroke-miterlimit="10"/>
<polygon points="557.18,491 555.1,494.6 550.94,494.6 553.02,498.2 550.94,501.8 555.1,501.8 557.18,505.4 559.26,501.8 563.41,501.8 561.33,498.2 563.41,494.6 559.26,494.6" fill="#000" stroke="#000" stroke-width="1.0" stroke-miterlimit="10"/>
<polygon points="582.61,545.91 580.53,549.51 576.38,549.51 578.45,553.11 576.38,556.71 580.53,556.71 582.61,560.31 584.69,556.71 588.85,556.71 586.77,553.11 588.85,549.51 584.69,549.51" fill="#000" stroke="#000" stroke-width="1.0" stroke-miterlimit="10"/>
<polygon points="604.63,602.74 602.55,606.34 598.4,606.34 600.47,609.94 598.4,613.54 602.55,613.54 604.63,617.14 606.71,613.54 610.87,613.54 608.79,609.94 610.87,606.34 606.71,606.34" fill="#000" stroke="#000" stroke-width="1.0" stroke-miterlimit="10"/>
<polygon points="625.97,665.36 623.89,668.96 619.73,668.96 621.81,672.56 619.73,676.16 623.89,676.16 625.97,679.76 628.05,676.16 632.2,676.16 630.13,672.56 632.2,668.96 628.05,668.96" fill="#000" stroke="#000" stroke-width="1.0" stroke-miterlimit="10"/>
<polygon points="644.23,725.08 642.16,728.68 638,728.68 640.08,732.28 638,735.88 642.16,735.88 644.23,739.48 646.31,735.88 650.47,735.88 648.39,732.28 650.47,728.68 646.31,728.68" fill="#000" stroke="#000" stroke-width="1.0" stroke-miterlimit="10"/>
</g>
<path d="M431.2 520.9V518.3M431.2 313.7V316.3M516.55 520.9V518.3M516.55 313.7V316.3M601.9 520.9V518.3M601.9 313.7V316.3M368.8 498.2H371.4M618.9 498.2H616.3M368.8 450.03H371.4M618.9 450.03H616.3M368.8 401.87H371.4M618.9 401.87H616.3M368.8 353.71H371.4M618.9 353.71H616.3" stroke="#262626" stroke-width="1.6" fill="none"/>
<rect x="368.8" y="313.7" width="250.1" height="207.2" stroke="#262626" stroke-width="1.6" fill="none"/>
<text x="431.2" y="540.3" font-size="16.3" text-anchor="middle">0.8</text>
<text x="516.55" y="540.3" font-size="16.3" text-anchor="middle">0.85</text>
<text x="601.9" y="540.3" font-size="16.3" text-anchor="middle">0.9</text>
<text x="364.2" y="504" font-size="16.3" text-anchor="end">0.08</text>
<text x="364.2" y="455.83" font-size="16.3" text-anchor="end">0.085</text>
<text x="364.2" y="407.67" font-size="16.3" text-anchor="end">0.09</text>
<text x="364.2" y="359.51" font-size="16.3" text-anchor="end">0.095</text>
<line x1="706.8" y1="196.8" x2="627.05" y2="300.01" stroke="#000" stroke-width="1.25"/>
<polygon points="619.1,310.3 625.45,288.67 628.27,298.43 638.43,298.7" fill="#000"/>
<clipPath id="clipB"><rect x="1135.5" y="11.8" width="852.8" height="633.7"/></clipPath>
<polyline points="1156.27,522.49 1179.3,502.47 1203.24,481.69 1227.48,460.72 1251.12,440.27 1274.08,420.42 1299.66,398.32 1321.96,379.11 1346.26,358.12 1368.68,338.77 1393.17,317.75 1415.71,298.31 1440.13,277.41 1464.8,256.15 1488.13,236.05 1511.22,216.38 1536.5,194.63 1558.79,175.7 1584.44,153.65 1607.77,133.89 1630.31,115.06 1656.07,93.22 1678.73,75.22 1703.1,55.91 1726.49,41.36 1747.87,34.64 1764.68,37.34 1778.15,46.38 1789.6,64.51 1798.67,85.25 1806.53,108.5 1814.15,135.41 1820.66,162.23 1826.51,191.03 1832.66,223.36 1838.02,254.67 1843.2,285.61 1848.32,320.74 1852.95,352.94 1857.46,386.18 1861.96,420.45 1866.41,455.24 1869.27,479.24 1871.89,500.24" stroke="#ff0000" stroke-width="3.2" fill="none" stroke-linejoin="round" stroke-linecap="butt" clip-path="url(#clipB)"/>
<polyline points="1156.27,522.7 1179.3,502.66 1203.24,481.84 1227.48,460.82 1251.12,440.3 1274.08,420.36 1299.66,398.13 1321.96,378.8 1346.26,357.67 1368.68,338.19 1393.17,317.04 1415.71,297.49 1440.13,276.46 1464.8,255.07 1488.13,234.85 1511.22,215.06 1536.5,193.17 1558.79,174.13 1584.44,151.95 1607.77,132.29 1630.31,113.82 1656.07,92.75 1678.73,75.54 1703.1,58.14 1726.49,45.28 1747.87,40.37 1764.68,44.45 1778.15,55.33 1789.6,73.76 1798.67,92.54 1806.53,112.38 1814.15,136.09 1820.66,161.7 1826.51,189.96 1832.66,222.25 1838.02,253.53 1843.2,284.44 1848.32,319.55 1852.95,352.51 1857.46,386.5 1861.96,421.54 1866.41,457.09 1869.27,486.36 1871.89,512.21" stroke="#00ff00" stroke-width="3.2" fill="none" stroke-linejoin="round" stroke-linecap="butt" clip-path="url(#clipB)"/>
<polyline points="1156.27,522.84 1179.3,502.74 1203.24,481.88 1227.48,460.82 1251.12,440.3 1274.08,420.37 1299.66,398.17 1321.96,378.89 1346.26,357.89 1368.68,338.55 1393.17,317.57 1415.71,298.2 1440.13,277.41 1464.8,256.15 1488.13,236.05 1511.22,216.38 1536.5,194.63 1558.79,175.7 1584.44,153.65 1607.77,133.89 1630.31,115.1 1656.07,93.41 1678.73,75.56 1703.1,56.69 1726.49,42.09 1747.87,34.84 1764.68,36.53 1778.15,44.94 1789.6,63.43 1798.67,84.47 1806.53,109.21 1814.15,137.27 1820.66,163.97 1826.51,192.66 1832.66,224.87 1838.02,256.06 1843.2,286.9 1848.32,321.92 1852.95,354.02 1857.46,387.17 1861.96,421.35 1866.41,456.04 1869.27,480 1871.89,500.97" stroke="#0000ff" stroke-width="3.2" fill="none" stroke-linejoin="round" stroke-linecap="butt" clip-path="url(#clipB)"/>
<polyline points="1156.27,522.67 1179.3,502.6 1203.24,481.78 1227.48,460.77 1251.12,440.29 1274.08,420.4 1299.66,398.24 1321.96,378.99 1346.26,357.97 1368.68,338.58 1393.17,317.52 1415.71,298.04 1440.13,277.09 1464.8,255.79 1488.13,235.65 1511.22,215.94 1536.5,194.14 1558.79,175.18 1584.44,153.08 1607.77,133.29 1630.31,114.5 1656.07,92.91 1678.73,75.16 1703.1,56.48 1726.49,42.1 1747.87,35.26 1764.68,37.85 1778.15,46.79 1789.6,64.75 1798.67,85.35 1806.53,108.5 1814.15,135.41 1820.66,162.23 1826.51,191.03 1832.66,223.36 1838.02,254.67 1843.2,285.61 1848.32,320.74 1852.95,352.94 1857.46,386.18 1861.96,420.45 1866.41,455.24 1869.27,479.24 1871.89,500.24" stroke="#00ffff" stroke-width="3.2" fill="none" stroke-linejoin="round" stroke-linecap="butt" clip-path="url(#clipB)"/>
<polyline points="1156.27,522.67 1179.3,502.6 1203.24,481.78 1227.48,460.77 1251.12,440.29 1274.08,420.4 1299.66,398.24 1321.96,378.99 1346.26,357.97 1368.68,338.58 1393.17,317.52 1415.71,298.04 1440.13,277.09 1464.8,255.79 1488.13,235.65 1511.22,215.94 1536.5,194.14 1558.79,175.18 1584.44,153.08 1607.77,133.29 1630.31,114.5 1656.07,92.91 1678.73,75.16 1703.1,56.56 1726.49,42.3 1747.87,35.69 1764.68,38.02 1778.15,46.79 1789.6,64.75 1798.67,85.35 1806.53,108.5 1814.15,135.41 1820.66,162.23 1826.51,191.03 1832.66,223.36 1838.02,254.67 1843.2,285.61 1848.32,320.74 1852.95,352.94 1857.46,386.18 1861.96,420.45 1866.41,455.24 1869.27,479.24 1871.89,500.24" stroke="#ff00ff" stroke-width="3.2" fill="none" stroke-linejoin="round" stroke-linecap="butt" clip-path="url(#clipB)"/>
<polyline points="1156.27,544.59 1168.4,530.37 1180.53,516.44 1192.66,502.8 1204.79,489.44 1216.92,476.37 1229.05,463.59 1241.18,451.09 1253.31,438.89 1265.43,426.96 1277.56,415.33 1289.69,403.98 1301.82,392.92 1313.95,382.15 1326.08,371.66 1338.21,361.46 1350.34,351.54 1362.47,341.92 1374.6,332.58 1386.73,323.52 1398.86,314.75 1410.98,306.27 1423.11,298.08 1435.24,290.18 1447.37,282.56 1459.5,275.22 1471.63,268.18 1483.76,261.42 1495.89,254.95 1508.02,248.76 1520.15,242.86 1532.28,237.25 1544.41,231.92 1556.53,226.89 1568.66,222.13 1580.79,217.67 1592.92,213.49 1605.05,209.6 1617.18,206 1629.31,202.68 1641.44,199.65 1653.57,196.9 1665.7,194.45 1677.83,192.28 1689.96,190.39 1702.08,188.8 1714.21,187.49 1726.34,186.46 1738.47,185.73 1750.6,185.28 1762.73,185.12 1774.86,185.24 1786.99,185.65 1799.12,186.35 1811.25,187.33 1823.38,188.6 1835.51,190.16 1847.63,192.01 1859.76,194.14 1871.89,196.56" stroke="#ffff00" stroke-width="3.4" fill="none" stroke-linejoin="round" stroke-linecap="butt" clip-path="url(#clipB)"/>
<polyline points="1156.27,522.67 1179.3,502.6 1203.24,481.78 1227.48,460.77 1251.12,440.29 1274.08,420.4 1299.66,398.24 1321.96,378.99 1346.26,357.97 1368.68,338.58 1393.17,317.52 1415.71,298.04 1440.13,277.09 1464.8,255.79 1488.13,235.65 1511.22,215.94 1536.5,194.14 1558.79,175.18 1584.44,153.08 1607.77,133.29 1630.31,114.54 1656.07,93.1 1678.73,75.5 1703.1,57.21 1726.49,43.32 1747.87,36.54 1764.68,39.17 1778.15,48.06 1789.6,65.7 1798.67,86.04 1806.53,108.98 1814.15,135.86 1820.66,162.66 1826.51,191.44 1832.66,223.75 1838.02,255.04 1843.2,285.96 1848.32,321.07 1852.95,353.25 1857.46,386.48 1861.96,420.74 1866.41,455.51 1869.27,479.5 1871.89,500.48" stroke="#000000" stroke-width="3.2" fill="none" stroke-linejoin="round" stroke-linecap="butt" clip-path="url(#clipB)"/>
<polyline points="1156.27,522.67 1179.3,502.6 1203.24,481.78 1227.48,460.77 1251.12,440.29 1274.08,420.4 1299.66,398.24 1321.96,378.99 1346.26,357.97 1368.68,338.58 1393.17,317.52 1415.71,298.04 1440.13,277.09 1464.8,255.79 1488.13,235.65 1511.22,215.94 1536.5,194.14 1558.79,175.18 1584.44,153.08 1607.77,133.29 1630.31,114.5 1656.07,92.91 1678.73,75.16 1703.1,56.48 1726.49,42.1 1747.87,35.17 1764.68,37.68 1778.15,46.59 1789.6,64.63 1798.67,85.3 1806.53,108.5 1814.15,135.41 1820.66,162.23 1826.51,191.03 1832.66,223.36 1838.02,254.67 1843.2,285.61 1848.32,320.74 1852.95,352.94 1857.46,386.18 1861.96,420.45 1866.41,455.24 1869.27,479.24 1871.89,500.24" stroke="#808080" stroke-width="3.2" fill="none" stroke-linejoin="round" stroke-linecap="butt" clip-path="url(#clipB)"/>
<polygon points="1156.27,514.67 1153.96,518.67 1149.34,518.67 1151.65,522.67 1149.34,526.67 1153.96,526.67 1156.27,530.67 1158.58,526.67 1163.2,526.67 1160.89,522.67 1163.2,518.67 1158.58,518.67" fill="#000" stroke="#000" stroke-width="1.0" stroke-miterlimit="10"/>
<polygon points="1179.3,494.6 1176.99,498.6 1172.37,498.6 1174.68,502.6 1172.37,506.6 1176.99,506.6 1179.3,510.6 1181.61,506.6 1186.23,506.6 1183.92,502.6 1186.23,498.6 1181.61,498.6" fill="#000" stroke="#000" stroke-width="1.0" stroke-miterlimit="10"/>
<polygon points="1203.24,473.78 1200.93,477.78 1196.31,477.78 1198.62,481.78 1196.31,485.78 1200.93,485.78 1203.24,489.78 1205.55,485.78 1210.16,485.78 1207.86,481.78 1210.16,477.78 1205.55,477.78" fill="#000" stroke="#000" stroke-width="1.0" stroke-miterlimit="10"/>
<polygon points="1227.48,452.77 1225.17,456.77 1220.55,456.77 1222.86,460.77 1220.55,464.77 1225.17,464.77 1227.48,468.77 1229.79,464.77 1234.41,464.77 1232.1,460.77 1234.41,456.77 1229.79,456.77" fill="#000" stroke="#000" stroke-width="1.0" stroke-miterlimit="10"/>
<polygon points="1251.12,432.29 1248.81,436.29 1244.19,436.29 1246.5,440.29 1244.19,444.29 1248.81,444.29 1251.12,448.29 1253.42,444.29 1258.04,444.29 1255.73,440.29 1258.04,436.29 1253.42,436.29" fill="#000" stroke="#000" stroke-width="1.0" stroke-miterlimit="10"/>
<polygon points="1274.08,412.4 1271.77,416.4 1267.15,416.4 1269.46,420.4 1267.15,424.4 1271.77,424.4 1274.08,428.4 1276.39,424.4 1281.01,424.4 1278.7,420.4 1281.01,416.4 1276.39,416.4" fill="#000" stroke="#000" stroke-width="1.0" stroke-miterlimit="10"/>
<polygon points="1299.66,390.24 1297.35,394.24 1292.74,394.24 1295.05,398.24 1292.74,402.24 1297.35,402.24 1299.66,406.24 1301.97,402.24 1306.59,402.24 1304.28,398.24 1306.59,394.24 1301.97,394.24" fill="#000" stroke="#000" stroke-width="1.0" stroke-miterlimit="10"/>
<polygon points="1321.96,370.99 1319.65,374.99 1315.03,374.99 1317.34,378.99 1315.03,382.99 1319.65,382.99 1321.96,386.99 1324.27,382.99 1328.89,382.99 1326.58,378.99 1328.89,374.99 1324.27,374.99" fill="#000" stroke="#000" stroke-width="1.0" stroke-miterlimit="10"/>
<polygon points="1346.26,349.97 1343.95,353.97 1339.34,353.97 1341.64,357.97 1339.34,361.97 1343.95,361.97 1346.26,365.97 1348.57,361.97 1353.19,361.97 1350.88,357.97 1353.19,353.97 1348.57,353.97" fill="#000" stroke="#000" stroke-width="1.0" stroke-miterlimit="10"/>
<polygon points="1368.68,330.58 1366.37,334.58 1361.75,334.58 1364.06,338.58 1361.75,342.58 1366.37,342.58 1368.68,346.58 1370.99,342.58 1375.61,342.58 1373.3,338.58 1375.61,334.58 1370.99,334.58" fill="#000" stroke="#000" stroke-width="1.0" stroke-miterlimit="10"/>
<polygon points="1393.17,309.52 1390.86,313.52 1386.24,313.52 1388.55,317.52 1386.24,321.52 1390.86,321.52 1393.17,325.52 1395.48,321.52 1400.1,321.52 1397.79,317.52 1400.1,313.52 1395.48,313.52" fill="#000" stroke="#000" stroke-width="1.0" stroke-miterlimit="10"/>
<polygon points="1415.71,290.04 1413.4,294.04 1408.78,294.04 1411.09,298.04 1408.78,302.04 1413.4,302.04 1415.71,306.04 1418.02,302.04 1422.63,302.04 1420.32,298.04 1422.63,294.04 1418.02,294.04" fill="#000" stroke="#000" stroke-width="1.0" stroke-miterlimit="10"/>
<polygon points="1440.13,269.09 1437.82,273.09 1433.2,273.09 1435.51,277.09 1433.2,281.09 1437.82,281.09 1440.13,285.09 1442.44,281.09 1447.06,281.09 1444.75,277.09 1447.06,273.09 1442.44,273.09" fill="#000" stroke="#000" stroke-width="1.0" stroke-miterlimit="10"/>
<polygon points="1464.8,247.79 1462.49,251.79 1457.87,251.79 1460.18,255.79 1457.87,259.79 1462.49,259.79 1464.8,263.79 1467.11,259.79 1471.73,259.79 1469.42,255.79 1471.73,251.79 1467.11,251.79" fill="#000" stroke="#000" stroke-width="1.0" stroke-miterlimit="10"/>
<polygon points="1488.13,227.65 1485.82,231.65 1481.2,231.65 1483.51,235.65 1481.2,239.65 1485.82,239.65 1488.13,243.65 1490.44,239.65 1495.06,239.65 1492.75,235.65 1495.06,231.65 1490.44,231.65" fill="#000" stroke="#000" stroke-width="1.0" stroke-miterlimit="10"/>
<polygon points="1511.22,207.94 1508.91,211.94 1504.29,211.94 1506.6,215.94 1504.29,219.94 1508.91,219.94 1511.22,223.94 1513.53,219.94 1518.15,219.94 1515.84,215.94 1518.15,211.94 1513.53,211.94" fill="#000" stroke="#000" stroke-width="1.0" stroke-miterlimit="10"/>
<polygon points="1536.5,186.14 1534.19,190.14 1529.57,190.14 1531.88,194.14 1529.57,198.14 1534.19,198.14 1536.5,202.14 1538.81,198.14 1543.43,198.14 1541.12,194.14 1543.43,190.14 1538.81,190.14" fill="#000" stroke="#000" stroke-width="1.0" stroke-miterlimit="10"/>
<polygon points="1558.79,167.18 1556.48,171.18 1551.87,171.18 1554.17,175.18 1551.87,179.18 1556.48,179.18 1558.79,183.18 1561.1,179.18 1565.72,179.18 1563.41,175.18 1565.72,171.18 1561.1,171.18" fill="#000" stroke="#000" stroke-width="1.0" stroke-miterlimit="10"/>
<polygon points="1584.44,145.08 1582.13,149.08 1577.51,149.08 1579.82,153.08 1577.51,157.08 1582.13,157.08 1584.44,161.08 1586.75,157.08 1591.37,157.08 1589.06,153.08 1591.37,149.08 1586.75,149.08" fill="#000" stroke="#000" stroke-width="1.0" stroke-miterlimit="10"/>
<polygon points="1607.77,125.29 1605.46,129.29 1600.84,129.29 1603.15,133.29 1600.84,137.29 1605.46,137.29 1607.77,141.29 1610.08,137.29 1614.7,137.29 1612.39,133.29 1614.7,129.29 1610.08,129.29" fill="#000" stroke="#000" stroke-width="1.0" stroke-miterlimit="10"/>
<polygon points="1630.31,106.54 1628,110.54 1623.38,110.54 1625.69,114.54 1623.38,118.54 1628,118.54 1630.31,122.54 1632.62,118.54 1637.23,118.54 1634.93,114.54 1637.23,110.54 1632.62,110.54" fill="#000" stroke="#000" stroke-width="1.0" stroke-miterlimit="10"/>
<polygon points="1656.07,85.1 1653.76,89.1 1649.15,89.1 1651.45,93.1 1649.15,97.1 1653.76,97.1 1656.07,101.1 1658.38,97.1 1663,97.1 1660.69,93.1 1663,89.1 1658.38,89.1" fill="#000" stroke="#000" stroke-width="1.0" stroke-miterlimit="10"/>
<polygon points="1678.73,67.5 1676.42,71.5 1671.81,71.5 1674.11,75.5 1671.81,79.5 1676.42,79.5 1678.73,83.5 1681.04,79.5 1685.66,79.5 1683.35,75.5 1685.66,71.5 1681.04,71.5" fill="#000" stroke="#000" stroke-width="1.0" stroke-miterlimit="10"/>
<polygon points="1703.1,49.04 1700.79,53.04 1696.17,53.04 1698.48,57.04 1696.17,61.04 1700.79,61.04 1703.1,65.04 1705.41,61.04 1710.03,61.04 1707.72,57.04 1710.03,53.04 1705.41,53.04" fill="#000" stroke="#000" stroke-width="1.0" stroke-miterlimit="10"/>
<polygon points="1726.49,34.91 1724.18,38.91 1719.56,38.91 1721.87,42.91 1719.56,46.91 1724.18,46.91 1726.49,50.91 1728.8,46.91 1733.42,46.91 1731.11,42.91 1733.42,38.91 1728.8,38.91" fill="#000" stroke="#000" stroke-width="1.0" stroke-miterlimit="10"/>
<polygon points="1747.87,28.11 1745.56,32.11 1740.94,32.11 1743.25,36.11 1740.94,40.11 1745.56,40.11 1747.87,44.11 1750.18,40.11 1754.8,40.11 1752.49,36.11 1754.8,32.11 1750.18,32.11" fill="#000" stroke="#000" stroke-width="1.0" stroke-miterlimit="10"/>
<polygon points="1764.68,30.73 1762.37,34.73 1757.76,34.73 1760.06,38.73 1757.76,42.73 1762.37,42.73 1764.68,46.73 1766.99,42.73 1771.61,42.73 1769.3,38.73 1771.61,34.73 1766.99,34.73" fill="#000" stroke="#000" stroke-width="1.0" stroke-miterlimit="10"/>
<polygon points="1778.15,39.65 1775.84,43.65 1771.22,43.65 1773.53,47.65 1771.22,51.65 1775.84,51.65 1778.15,55.65 1780.46,51.65 1785.07,51.65 1782.76,47.65 1785.07,43.65 1780.46,43.65" fill="#000" stroke="#000" stroke-width="1.0" stroke-miterlimit="10"/>
<polygon points="1789.6,57.46 1787.29,61.46 1782.67,61.46 1784.98,65.46 1782.67,69.46 1787.29,69.46 1789.6,73.46 1791.91,69.46 1796.53,69.46 1794.22,65.46 1796.53,61.46 1791.91,61.46" fill="#000" stroke="#000" stroke-width="1.0" stroke-miterlimit="10"/>
<polygon points="1798.67,77.93 1796.36,81.93 1791.75,81.93 1794.06,85.93 1791.75,89.93 1796.36,89.93 1798.67,93.93 1800.98,89.93 1805.6,89.93 1803.29,85.93 1805.6,81.93 1800.98,81.93" fill="#000" stroke="#000" stroke-width="1.0" stroke-miterlimit="10"/>
<polygon points="1806.53,100.98 1804.22,104.98 1799.6,104.98 1801.91,108.98 1799.6,112.98 1804.22,112.98 1806.53,116.98 1808.84,112.98 1813.46,112.98 1811.15,108.98 1813.46,104.98 1808.84,104.98" fill="#000" stroke="#000" stroke-width="1.0" stroke-miterlimit="10"/>
<polygon points="1814.15,127.86 1811.84,131.86 1807.22,131.86 1809.53,135.86 1807.22,139.86 1811.84,139.86 1814.15,143.86 1816.46,139.86 1821.07,139.86 1818.76,135.86 1821.07,131.86 1816.46,131.86" fill="#000" stroke="#000" stroke-width="1.0" stroke-miterlimit="10"/>
<polygon points="1820.66,154.66 1818.35,158.66 1813.74,158.66 1816.05,162.66 1813.74,166.66 1818.35,166.66 1820.66,170.66 1822.97,166.66 1827.59,166.66 1825.28,162.66 1827.59,158.66 1822.97,158.66" fill="#000" stroke="#000" stroke-width="1.0" stroke-miterlimit="10"/>
<polygon points="1826.51,183.44 1824.2,187.44 1819.58,187.44 1821.89,191.44 1819.58,195.44 1824.2,195.44 1826.51,199.44 1828.82,195.44 1833.44,195.44 1831.13,191.44 1833.44,187.44 1828.82,187.44" fill="#000" stroke="#000" stroke-width="1.0" stroke-miterlimit="10"/>
<polygon points="1832.66,215.75 1830.35,219.75 1825.74,219.75 1828.05,223.75 1825.74,227.75 1830.35,227.75 1832.66,231.75 1834.97,227.75 1839.59,227.75 1837.28,223.75 1839.59,219.75 1834.97,219.75" fill="#000" stroke="#000" stroke-width="1.0" stroke-miterlimit="10"/>
<polygon points="1838.02,247.04 1835.72,251.04 1831.1,251.04 1833.41,255.04 1831.1,259.04 1835.72,259.04 1838.02,263.04 1840.33,259.04 1844.95,259.04 1842.64,255.04 1844.95,251.04 1840.33,251.04" fill="#000" stroke="#000" stroke-width="1.0" stroke-miterlimit="10"/>
<polygon points="1843.2,277.96 1840.89,281.96 1836.27,281.96 1838.58,285.96 1836.27,289.96 1840.89,289.96 1843.2,293.96 1845.51,289.96 1850.13,289.96 1847.82,285.96 1850.13,281.96 1845.51,281.96" fill="#000" stroke="#000" stroke-width="1.0" stroke-miterlimit="10"/>
<polygon points="1848.32,313.07 1846.01,317.07 1841.39,317.07 1843.7,321.07 1841.39,325.07 1846.01,325.07 1848.32,329.07 1850.63,325.07 1855.25,325.07 1852.94,321.07 1855.25,317.07 1850.63,317.07" fill="#000" stroke="#000" stroke-width="1.0" stroke-miterlimit="10"/>
<polygon points="1852.95,345.25 1850.64,349.25 1846.02,349.25 1848.33,353.25 1846.02,357.25 1850.64,357.25 1852.95,361.25 1855.26,357.25 1859.88,357.25 1857.57,353.25 1859.88,349.25 1855.26,349.25" fill="#000" stroke="#000" stroke-width="1.0" stroke-miterlimit="10"/>
<polygon points="1857.46,378.48 1855.15,382.48 1850.53,382.48 1852.84,386.48 1850.53,390.48 1855.15,390.48 1857.46,394.48 1859.77,390.48 1864.38,390.48 1862.07,386.48 1864.38,382.48 1859.77,382.48" fill="#000" stroke="#000" stroke-width="1.0" stroke-miterlimit="10"/>
<polygon points="1861.96,412.74 1859.65,416.74 1855.04,416.74 1857.34,420.74 1855.04,424.74 1859.65,424.74 1861.96,428.74 1864.27,424.74 1868.89,424.74 1866.58,420.74 1868.89,416.74 1864.27,416.74" fill="#000" stroke="#000" stroke-width="1.0" stroke-miterlimit="10"/>
<polygon points="1866.41,447.51 1864.1,451.51 1859.48,451.51 1861.79,455.51 1859.48,459.51 1864.1,459.51 1866.41,463.51 1868.72,459.51 1873.34,459.51 1871.03,455.51 1873.34,451.51 1868.72,451.51" fill="#000" stroke="#000" stroke-width="1.0" stroke-miterlimit="10"/>
<polygon points="1869.27,471.5 1866.96,475.5 1862.35,475.5 1864.65,479.5 1862.35,483.5 1866.96,483.5 1869.27,487.5 1871.58,483.5 1876.2,483.5 1873.89,479.5 1876.2,475.5 1871.58,475.5" fill="#000" stroke="#000" stroke-width="1.0" stroke-miterlimit="10"/>
<polygon points="1871.89,492.48 1869.58,496.48 1864.96,496.48 1867.27,500.48 1864.96,504.48 1869.58,504.48 1871.89,508.48 1874.2,504.48 1878.82,504.48 1876.51,500.48 1878.82,496.48 1874.2,496.48" fill="#000" stroke="#000" stroke-width="1.0" stroke-miterlimit="10"/>
<path d="M1257.33 645.5V637M1257.33 11.8V20.3M1379.16 645.5V637M1379.16 11.8V20.3M1500.99 645.5V637M1500.99 11.8V20.3M1622.81 645.5V637M1622.81 11.8V20.3M1744.64 645.5V637M1744.64 11.8V20.3M1866.47 645.5V637M1866.47 11.8V20.3M1135.5 540.6H1144M1988.3 540.6H1979.8M1135.5 434.9H1144M1988.3 434.9H1979.8M1135.5 329.2H1144M1988.3 329.2H1979.8M1135.5 223.5H1144M1988.3 223.5H1979.8M1135.5 117.8H1144M1988.3 117.8H1979.8" stroke="#262626" stroke-width="1.4" fill="none"/>
<rect x="1135.5" y="11.8" width="852.8" height="633.7" stroke="#262626" stroke-width="1.4" fill="none"/>
<text x="1135.5" y="683.3" font-size="30" text-anchor="middle">-0.2</text>
<text x="1257.33" y="683.3" font-size="30" text-anchor="middle">0</text>
<text x="1379.16" y="683.3" font-size="30" text-anchor="middle">0.2</text>
<text x="1500.99" y="683.3" font-size="30" text-anchor="middle">0.4</text>
<text x="1622.81" y="683.3" font-size="30" text-anchor="middle">0.6</text>
<text x="1744.64" y="683.3" font-size="30" text-anchor="middle">0.8</text>
<text x="1866.47" y="683.3" font-size="30" text-anchor="middle">1</text>
<text x="1988.3" y="683.3" font-size="30" text-anchor="middle">1.2</text>
<text x="1124.5" y="656.9" font-size="30" text-anchor="end">-0.04</text>
<text x="1124.5" y="551.2" font-size="30" text-anchor="end">-0.02</text>
<text x="1124.5" y="445.5" font-size="30" text-anchor="end">0</text>
<text x="1124.5" y="339.8" font-size="30" text-anchor="end">0.02</text>
<text x="1124.5" y="234.1" font-size="30" text-anchor="end">0.04</text>
<text x="1124.5" y="128.4" font-size="30" text-anchor="end">0.06</text>
<text x="1124.5" y="22.7" font-size="30" text-anchor="end">0.08</text>
<text x="1051.6" y="329.1" font-size="32.3" text-anchor="middle" transform="rotate(-90 1051.6 329.1)">PV Cell Power (W)</text>
<text x="1562" y="721.4" font-size="32.8" text-anchor="middle">PV Cell Voltage (V)</text>
<text x="1547.9" y="773.9" font-size="46.5" text-anchor="middle">(b)</text>
<rect x="1230.5" y="543.7" width="547.6" height="83.6" fill="#fff" stroke="#262626" stroke-width="1.4"/>
<line x1="1236.4" y1="559.1" x2="1298.9" y2="559.1" stroke="#ff0000" stroke-width="3"/>
<text x="1304.9" y="567.9" font-size="23.2" text-anchor="start">OBEDO</text>
<line x1="1236.4" y1="585.6" x2="1298.9" y2="585.6" stroke="#00ff00" stroke-width="3"/>
<text x="1304.9" y="594.4" font-size="23.2" text-anchor="start">EDO</text>
<line x1="1236.4" y1="611.8" x2="1298.9" y2="611.8" stroke="#0000ff" stroke-width="3"/>
<text x="1304.9" y="620.6" font-size="23.2" text-anchor="start">ADHHO</text>
<line x1="1403.6" y1="559.1" x2="1466.3" y2="559.1" stroke="#00ffff" stroke-width="3"/>
<text x="1471.9" y="567.9" font-size="23.2" text-anchor="start">OBMPA</text>
<line x1="1403.6" y1="585.6" x2="1466.3" y2="585.6" stroke="#ff00ff" stroke-width="3"/>
<text x="1471.9" y="594.4" font-size="23.2" text-anchor="start">MGTO</text>
<line x1="1403.6" y1="611.8" x2="1466.3" y2="611.8" stroke="#ffff00" stroke-width="3"/>
<text x="1471.9" y="620.6" font-size="23.2" text-anchor="start">IAOA</text>
<line x1="1570.1" y1="559.1" x2="1632.5" y2="559.1" stroke="#000000" stroke-width="3"/>
<text x="1638.7" y="567.9" font-size="23.2" text-anchor="start">HDE</text>
<line x1="1570.1" y1="585.6" x2="1632.5" y2="585.6" stroke="#808080" stroke-width="3"/>
<text x="1638.7" y="594.4" font-size="23.2" text-anchor="start">OBGBO</text>
<polygon points="1601.1,604 1598.85,607.9 1594.35,607.9 1596.6,611.8 1594.35,615.7 1598.85,615.7 1601.1,619.6 1603.35,615.7 1607.85,615.7 1605.6,611.8 1607.85,607.9 1603.35,607.9" fill="#000" stroke="#000" stroke-width="1.0" stroke-miterlimit="10"/>
<text x="1638.7" y="620.6" font-size="23.2" text-anchor="start">Experimental</text>
<rect x="1528.2" y="336.8" width="244.9" height="139.7" fill="#fff"/>
<clipPath id="clipB2"><rect x="1528.2" y="336.8" width="244.9" height="139.7"/></clipPath>
<polyline points="885.46,1867.69 916.11,1805.03 947.98,1740.02 980.26,1674.4 1011.73,1610.43 1042.3,1548.32 1076.36,1479.14 1106.05,1419.03 1138.41,1353.38 1168.25,1292.83 1200.85,1227.05 1230.86,1166.23 1263.38,1100.81 1296.23,1034.3 1327.29,971.41 1358.02,909.86 1391.68,841.78 1421.36,782.56 1455.51,713.57 1486.57,651.75 1516.58,592.83 1550.88,524.48 1581.05,468.17 1613.49,407.75 1644.63,362.22 1673.1,341.2 1695.48,349.61 1713.4,377.93 1728.65,434.65 1740.74,499.53 1751.2,572.31 1761.34,656.5 1770.01,740.43 1777.8,830.54 1785.99,931.71 1793.13,1029.66 1800.02,1126.49 1806.83,1236.39 1813,1337.14 1819,1441.16 1825,1548.41 1830.92,1657.27 1834.73,1732.37 1838.22,1798.07" stroke="#ff0000" stroke-width="3.2" fill="none" stroke-linejoin="round" stroke-linecap="butt" clip-path="url(#clipB2)"/>
<polyline points="885.46,1868.34 916.11,1805.63 947.98,1740.5 980.26,1674.7 1011.73,1610.5 1042.3,1548.11 1076.36,1478.56 1106.05,1418.07 1138.41,1351.94 1168.25,1291.01 1200.85,1224.84 1230.86,1163.65 1263.38,1097.83 1296.23,1030.93 1327.29,967.65 1358.02,905.73 1391.68,837.24 1421.36,777.65 1455.51,708.24 1486.57,646.73 1516.58,588.93 1550.88,523 1581.05,469.17 1613.49,414.71 1644.63,374.46 1673.1,359.1 1695.48,371.87 1713.4,405.92 1728.65,463.6 1740.74,522.36 1751.2,584.44 1761.34,658.63 1770.01,738.77 1777.8,827.18 1785.99,928.23 1793.13,1026.08 1800.02,1122.82 1806.83,1232.68 1813,1335.81 1819,1442.18 1825,1551.81 1830.92,1663.06 1834.73,1754.63 1838.22,1835.53" stroke="#00ff00" stroke-width="3.2" fill="none" stroke-linejoin="round" stroke-linecap="butt" clip-path="url(#clipB2)"/>
<polyline points="885.46,1868.78 916.11,1805.87 947.98,1740.61 980.26,1674.72 1011.73,1610.5 1042.3,1548.14 1076.36,1478.68 1106.05,1418.35 1138.41,1352.64 1168.25,1292.12 1200.85,1226.48 1230.86,1165.89 1263.38,1100.81 1296.23,1034.3 1327.29,971.41 1358.02,909.86 1391.68,841.78 1421.36,782.56 1455.51,713.57 1486.57,651.75 1516.58,592.95 1550.88,525.07 1581.05,469.22 1613.49,410.17 1644.63,364.5 1673.1,341.79 1695.48,347.11 1713.4,373.4 1728.65,431.27 1740.74,497.09 1751.2,574.5 1761.34,662.3 1770.01,745.85 1777.8,835.62 1785.99,936.41 1793.13,1034.02 1800.02,1130.53 1806.83,1240.1 1813,1340.54 1819,1444.26 1825,1551.2 1830.92,1659.76 1834.73,1734.75 1838.22,1800.35" stroke="#0000ff" stroke-width="3.2" fill="none" stroke-linejoin="round" stroke-linecap="butt" clip-path="url(#clipB2)"/>
<polyline points="885.46,1868.24 916.11,1805.45 947.98,1740.31 980.26,1674.56 1011.73,1610.46 1042.3,1548.23 1076.36,1478.91 1106.05,1418.68 1138.41,1352.9 1168.25,1292.22 1200.85,1226.31 1230.86,1165.37 1263.38,1099.82 1296.23,1033.18 1327.29,970.16 1358.02,908.49 1391.68,840.27 1421.36,780.92 1455.51,711.79 1486.57,649.85 1516.58,591.05 1550.88,523.5 1581.05,467.98 1613.49,409.51 1644.63,364.51 1673.1,343.12 1695.48,351.23 1713.4,379.2 1728.65,435.41 1740.74,499.87 1751.2,572.31 1761.34,656.5 1770.01,740.43 1777.8,830.54 1785.99,931.71 1793.13,1029.66 1800.02,1126.49 1806.83,1236.39 1813,1337.14 1819,1441.16 1825,1548.41 1830.92,1657.27 1834.73,1732.37 1838.22,1798.07" stroke="#00ffff" stroke-width="3.2" fill="none" stroke-linejoin="round" stroke-linecap="butt" clip-path="url(#clipB2)"/>
<polyline points="885.46,1868.24 916.11,1805.45 947.98,1740.31 980.26,1674.56 1011.73,1610.46 1042.3,1548.23 1076.36,1478.91 1106.05,1418.68 1138.41,1352.9 1168.25,1292.22 1200.85,1226.31 1230.86,1165.37 1263.38,1099.82 1296.23,1033.18 1327.29,970.16 1358.02,908.49 1391.68,840.27 1421.36,780.92 1455.51,711.79 1486.57,649.85 1516.58,591.05 1550.88,523.5 1581.05,467.98 1613.49,409.78 1644.63,365.15 1673.1,344.45 1695.48,351.75 1713.4,379.2 1728.65,435.41 1740.74,499.87 1751.2,572.31 1761.34,656.5 1770.01,740.43 1777.8,830.54 1785.99,931.71 1793.13,1029.66 1800.02,1126.49 1806.83,1236.39 1813,1337.14 1819,1441.16 1825,1548.41 1830.92,1657.27 1834.73,1732.37 1838.22,1798.07" stroke="#ff00ff" stroke-width="3.2" fill="none" stroke-linejoin="round" stroke-linecap="butt" clip-path="url(#clipB2)"/>
<polyline points="885.46,1868.24 916.11,1805.45 947.98,1740.31 980.26,1674.56 1011.73,1610.46 1042.3,1548.23 1076.36,1478.91 1106.05,1418.68 1138.41,1352.9 1168.25,1292.22 1200.85,1226.31 1230.86,1165.37 1263.38,1099.82 1296.23,1033.18 1327.29,970.16 1358.02,908.49 1391.68,840.27 1421.36,780.92 1455.51,711.79 1486.57,649.85 1516.58,591.18 1550.88,524.09 1581.05,469.03 1613.49,411.82 1644.63,368.33 1673.1,347.12 1695.48,355.36 1713.4,383.16 1728.65,438.37 1740.74,502 1751.2,573.78 1761.34,657.9 1770.01,741.77 1777.8,831.82 1785.99,932.92 1793.13,1030.81 1800.02,1127.59 1806.83,1237.43 1813,1338.13 1819,1442.09 1825,1549.29 1830.92,1658.1 1834.73,1733.16 1838.22,1798.83" stroke="#000000" stroke-width="3.2" fill="none" stroke-linejoin="round" stroke-linecap="butt" clip-path="url(#clipB2)"/>
<polyline points="885.46,1868.24 916.11,1805.45 947.98,1740.31 980.26,1674.56 1011.73,1610.46 1042.3,1548.23 1076.36,1478.91 1106.05,1418.68 1138.41,1352.9 1168.25,1292.22 1200.85,1226.31 1230.86,1165.37 1263.38,1099.82 1296.23,1033.18 1327.29,970.16 1358.02,908.49 1391.68,840.27 1421.36,780.92 1455.51,711.79 1486.57,649.85 1516.58,591.05 1550.88,523.5 1581.05,467.98 1613.49,409.51 1644.63,364.51 1673.1,342.83 1695.48,350.69 1713.4,378.57 1728.65,435.03 1740.74,499.7 1751.2,572.31 1761.34,656.5 1770.01,740.43 1777.8,830.54 1785.99,931.71 1793.13,1029.66 1800.02,1126.49 1806.83,1236.39 1813,1337.14 1819,1441.16 1825,1548.41 1830.92,1657.27 1834.73,1732.37 1838.22,1798.07" stroke="#808080" stroke-width="3.2" fill="none" stroke-linejoin="round" stroke-linecap="butt" clip-path="url(#clipB2)"/>
<g clip-path="url(#clipB2)">
<polygon points="1516.58,583.98 1514.5,587.58 1510.34,587.58 1512.42,591.18 1510.34,594.78 1514.5,594.78 1516.58,598.38 1518.65,594.78 1522.81,594.78 1520.73,591.18 1522.81,587.58 1518.65,587.58" fill="#000" stroke="#000" stroke-width="1.0" stroke-miterlimit="10"/>
<polygon points="1550.88,516.89 1548.8,520.49 1544.65,520.49 1546.72,524.09 1544.65,527.69 1548.8,527.69 1550.88,531.29 1552.96,527.69 1557.12,527.69 1555.04,524.09 1557.12,520.49 1552.96,520.49" fill="#000" stroke="#000" stroke-width="1.0" stroke-miterlimit="10"/>
<polygon points="1581.05,461.83 1578.97,465.43 1574.81,465.43 1576.89,469.03 1574.81,472.63 1578.97,472.63 1581.05,476.23 1583.13,472.63 1587.29,472.63 1585.21,469.03 1587.29,465.43 1583.13,465.43" fill="#000" stroke="#000" stroke-width="1.0" stroke-miterlimit="10"/>
<polygon points="1613.49,404.07 1611.41,407.67 1607.25,407.67 1609.33,411.27 1607.25,414.87 1611.41,414.87 1613.49,418.47 1615.57,414.87 1619.73,414.87 1617.65,411.27 1619.73,407.67 1615.57,407.67" fill="#000" stroke="#000" stroke-width="1.0" stroke-miterlimit="10"/>
<polygon points="1644.63,359.86 1642.55,363.46 1638.4,363.46 1640.48,367.06 1638.4,370.66 1642.55,370.66 1644.63,374.26 1646.71,370.66 1650.87,370.66 1648.79,367.06 1650.87,363.46 1646.71,363.46" fill="#000" stroke="#000" stroke-width="1.0" stroke-miterlimit="10"/>
<polygon points="1673.1,338.59 1671.02,342.19 1666.86,342.19 1668.94,345.79 1666.86,349.39 1671.02,349.39 1673.1,352.99 1675.18,349.39 1679.33,349.39 1677.26,345.79 1679.33,342.19 1675.18,342.19" fill="#000" stroke="#000" stroke-width="1.0" stroke-miterlimit="10"/>
<polygon points="1695.48,346.78 1693.4,350.38 1689.25,350.38 1691.32,353.98 1689.25,357.58 1693.4,357.58 1695.48,361.18 1697.56,357.58 1701.72,357.58 1699.64,353.98 1701.72,350.38 1697.56,350.38" fill="#000" stroke="#000" stroke-width="1.0" stroke-miterlimit="10"/>
<polygon points="1713.4,374.69 1711.33,378.29 1707.17,378.29 1709.25,381.89 1707.17,385.49 1711.33,385.49 1713.4,389.09 1715.48,385.49 1719.64,385.49 1717.56,381.89 1719.64,378.29 1715.48,378.29" fill="#000" stroke="#000" stroke-width="1.0" stroke-miterlimit="10"/>
<polygon points="1728.65,430.41 1726.57,434.01 1722.42,434.01 1724.49,437.61 1722.42,441.21 1726.57,441.21 1728.65,444.81 1730.73,441.21 1734.89,441.21 1732.81,437.61 1734.89,434.01 1730.73,434.01" fill="#000" stroke="#000" stroke-width="1.0" stroke-miterlimit="10"/>
<polygon points="1740.74,494.47 1738.66,498.07 1734.5,498.07 1736.58,501.67 1734.5,505.27 1738.66,505.27 1740.74,508.87 1742.81,505.27 1746.97,505.27 1744.89,501.67 1746.97,498.07 1742.81,498.07" fill="#000" stroke="#000" stroke-width="1.0" stroke-miterlimit="10"/>
<polygon points="1751.2,566.58 1749.12,570.18 1744.96,570.18 1747.04,573.78 1744.96,577.38 1749.12,577.38 1751.2,580.98 1753.28,577.38 1757.43,577.38 1755.35,573.78 1757.43,570.18 1753.28,570.18" fill="#000" stroke="#000" stroke-width="1.0" stroke-miterlimit="10"/>
<polygon points="1761.34,650.7 1759.26,654.3 1755.1,654.3 1757.18,657.9 1755.1,661.5 1759.26,661.5 1761.34,665.1 1763.41,661.5 1767.57,661.5 1765.49,657.9 1767.57,654.3 1763.41,654.3" fill="#000" stroke="#000" stroke-width="1.0" stroke-miterlimit="10"/>
<polygon points="1770.01,734.57 1767.93,738.17 1763.78,738.17 1765.86,741.77 1763.78,745.37 1767.93,745.37 1770.01,748.97 1772.09,745.37 1776.25,745.37 1774.17,741.77 1776.25,738.17 1772.09,738.17" fill="#000" stroke="#000" stroke-width="1.0" stroke-miterlimit="10"/>
<polygon points="1777.8,824.62 1775.72,828.22 1771.56,828.22 1773.64,831.82 1771.56,835.42 1775.72,835.42 1777.8,839.02 1779.88,835.42 1784.03,835.42 1781.96,831.82 1784.03,828.22 1779.88,828.22" fill="#000" stroke="#000" stroke-width="1.0" stroke-miterlimit="10"/>
<polygon points="1785.99,925.72 1783.91,929.32 1779.75,929.32 1781.83,932.92 1779.75,936.52 1783.91,936.52 1785.99,940.12 1788.07,936.52 1792.22,936.52 1790.15,932.92 1792.22,929.32 1788.07,929.32" fill="#000" stroke="#000" stroke-width="1.0" stroke-miterlimit="10"/>
</g>
<path d="M1587.7 476.5V473.9M1587.7 336.8V339.4M1668.8 476.5V473.9M1668.8 336.8V339.4M1749.9 476.5V473.9M1749.9 336.8V339.4M1528.2 469.1H1530.8M1773.1 469.1H1770.5M1528.2 436.02H1530.8M1773.1 436.02H1770.5M1528.2 402.95H1530.8M1773.1 402.95H1770.5M1528.2 369.87H1530.8M1773.1 369.87H1770.5" stroke="#262626" stroke-width="1.6" fill="none"/>
<rect x="1528.2" y="336.8" width="244.9" height="139.7" stroke="#262626" stroke-width="1.6" fill="none"/>
<text x="1587.7" y="495.9" font-size="16.6" text-anchor="middle">0.7</text>
<text x="1668.8" y="495.9" font-size="16.6" text-anchor="middle">0.8</text>
<text x="1749.9" y="495.9" font-size="16.6" text-anchor="middle">0.9</text>
<text x="1523.6" y="474.9" font-size="16.6" text-anchor="end">0.068</text>
<text x="1523.6" y="441.82" font-size="16.6" text-anchor="end">0.07</text>
<text x="1523.6" y="408.75" font-size="16.6" text-anchor="end">0.072</text>
<text x="1523.6" y="375.67" font-size="16.6" text-anchor="end">0.074</text>
<text x="1523.6" y="342.6" font-size="16.6" text-anchor="end">0.076</text>
<line x1="1756.5" y1="39.5" x2="1687.99" y2="319.07" stroke="#000" stroke-width="1.25"/>
<polygon points="1684.9,331.7 1681.93,309.35 1688.47,317.13 1697.86,313.25" fill="#000"/>
</svg>
</body></html>
